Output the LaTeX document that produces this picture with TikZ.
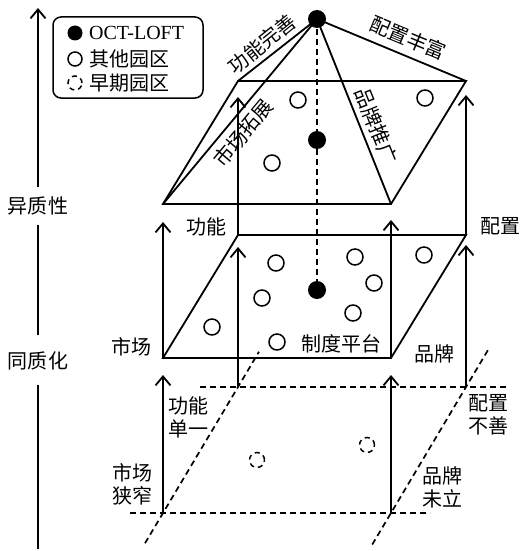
\documentclass[tikz,border=0pt]{standalone}
\usepackage{fontspec}
\setmainfont{Liberation Serif}
\newfontfamily\cjk{Noto Sans CJK SC}
\usetikzlibrary{arrows.meta,calc}
\begin{document}
\begin{tikzpicture}[x=1pt,y=-1pt,
  ln/.style={line width=1.8pt},
  arr/.style={line width=1.8pt,-{Straight Barb[length=9pt,width=15pt]}},
  dsh/.style={line width=1.7pt,dash pattern=on 6pt off 4pt},
  lbl/.style={font=\cjk\fontsize{20}{23}\selectfont,inner sep=0pt,align=left},
  dot/.style={circle,fill=black,inner sep=0pt,minimum size=18pt},
  ring/.style={circle,draw,fill=white,line width=1.5pt,inner sep=0pt,minimum size=16pt},
  dring/.style={circle,draw,line width=1.5pt,dash pattern=on 5pt off 4pt,inner sep=0pt,minimum size=15pt},
]
\useasboundingbox (0,0) rectangle (520,551);

% ---- corner coordinates
\coordinate (bfl) at (163,513); \coordinate (bfr) at (391,513);
\coordinate (bbl) at (238,387); \coordinate (bbr) at (466,387);
\coordinate (mfl) at (163,358); \coordinate (mfr) at (391,358);
\coordinate (mbl) at (238,235); \coordinate (mbr) at (466,235);
\coordinate (tfl) at (163,204); \coordinate (tfr) at (391,204);
\coordinate (tbl) at (238,81);  \coordinate (tbr) at (466,81);
\coordinate (A) at (317,19);
\coordinate (B) at (317,140);
\coordinate (C) at (317,290);

% ---- left axis
\coordinate (axb) at (38,549);
\coordinate (axt) at (38,8);
\node[lbl] (hom) at (38,361) {同质化};
\node[lbl] (het) at (38,206) {异质性};
\draw[ln,shorten >=24pt] (axb) -- (hom.center);
\draw[ln,shorten <=26pt,shorten >=19pt] (hom.center) -- (het.center);
\draw[arr,shorten <=19pt] (het.center) -- (axt);

% ---- legend
\node[draw,rounded corners=8pt,line width=1.5pt,minimum width=150pt,minimum height=81pt] (leg) at (128,57.5) {};
\node[dot,minimum size=15pt] (lg1) at (75,33) {};
\node[ring,minimum size=14pt] (lg2) at (75,59) {};
\node[dring,minimum size=14pt] (lg3) at (75,83) {};
\node[anchor=west,inner sep=0pt,font=\fontsize{20}{23}\selectfont] (lt1) at (89,33) {OCT-LOFT};
\node[lbl,anchor=west] (lt2) at (89,59) {其他园区};
\node[lbl,anchor=west] (lt3) at (89,83) {早期园区};

% ---- bottom (dashed) plane
\draw[dsh] ([xshift=-33pt]bfl) -- ([xshift=39pt]bfr);
\draw[dsh] ([xshift=-38pt]bbl) -- ([xshift=41pt]bbr);
\draw[dsh] ($(bfl)!-0.24!(bbl)$) -- ($(bfl)!1.28!(bbl)$);
\draw[dsh] ($(bfr)!-0.25!(bbr)$) -- ($(bfr)!1.3!(bbr)$);

% ---- middle plane
\draw[ln] (mfl) -- (mfr) -- (mbr) -- (mbl) -- cycle;

% ---- top plane and pyramid
\draw[ln] (tfl) -- (tfr) -- (tbr) -- (tbl) -- cycle;
\draw[ln] (A) -- (tbl);
\draw[ln] (A) -- (tfl);
\draw[ln] (A) -- (tfr);
\draw[ln] (A) -- (tbr);
\draw[dsh] (A) -- (C);

% ---- vertical arrows
\draw[arr,shorten >=17pt] (bfl) -- (mfl);
\draw[arr,shorten >=12pt] (bbl) -- (mbl);
\draw[arr,shorten >=17pt] (bfr) -- (mfr);
\draw[arr,shorten >=10pt] (bbr) -- (mbr);
\draw[arr,shorten >=18pt] (mfl) -- (tfl);
\draw[arr,shorten >=16pt] (mbl) -- (tbl);
\draw[arr,shorten >=16pt] (mfr) -- (tfr);
\draw[arr,shorten >=14pt] (mbr) -- (tbr);

% ---- dots
\node[dot] (apex) at (A) {};
\node[dot] (oct2) at (B) {};
\node[dot] (oct1) at (C) {};

\node[ring] (t1) at (298,100) {};
\node[ring] (t2) at (272,163) {};
\node[ring] (t3) at (425,98) {};

\node[ring] (m1) at (212,327) {};
\node[ring] (m2) at (262,298) {};
\node[ring] (m3) at (276,263) {};
\node[ring] (m4) at (277,342) {};
\node[ring] (m5) at (355,257) {};
\node[ring] (m6) at (374,283) {};
\node[ring] (m7) at (353,313) {};
\node[ring] (m8) at (424,255) {};

\node[dring] (e1) at (257,460) {};
\node[dring] (e2) at (367,445) {};

% ---- pyramid labels
\node[lbl,rotate=39] (p1) at (262,44) {功能完善};
\node[lbl,rotate=-22.5] (p2) at (408,38) {配置丰富};
\node[lbl,rotate=-68] (p3) at (376,126) {品牌推广};
\node[lbl,rotate=50] (p4) at (243,133) {市场拓展};

% ---- plane labels
\node[lbl] (f1) at (206,227) {功能};
\node[lbl] (f2) at (500,226) {配置};
\node[lbl] (f3) at (131,347) {市场};
\node[lbl] (f4) at (341,344) {制度平台};
\node[lbl] (f5) at (434,354) {品牌};

\node[lbl] (g1) at (188,417) {功能\\单一};
\node[lbl] (g2) at (132,484) {市场\\狭窄};
\node[lbl] (g3) at (488,415) {配置\\不善};
\node[lbl] (g4) at (442,487) {品牌\\未立};
\end{tikzpicture}
\end{document}
